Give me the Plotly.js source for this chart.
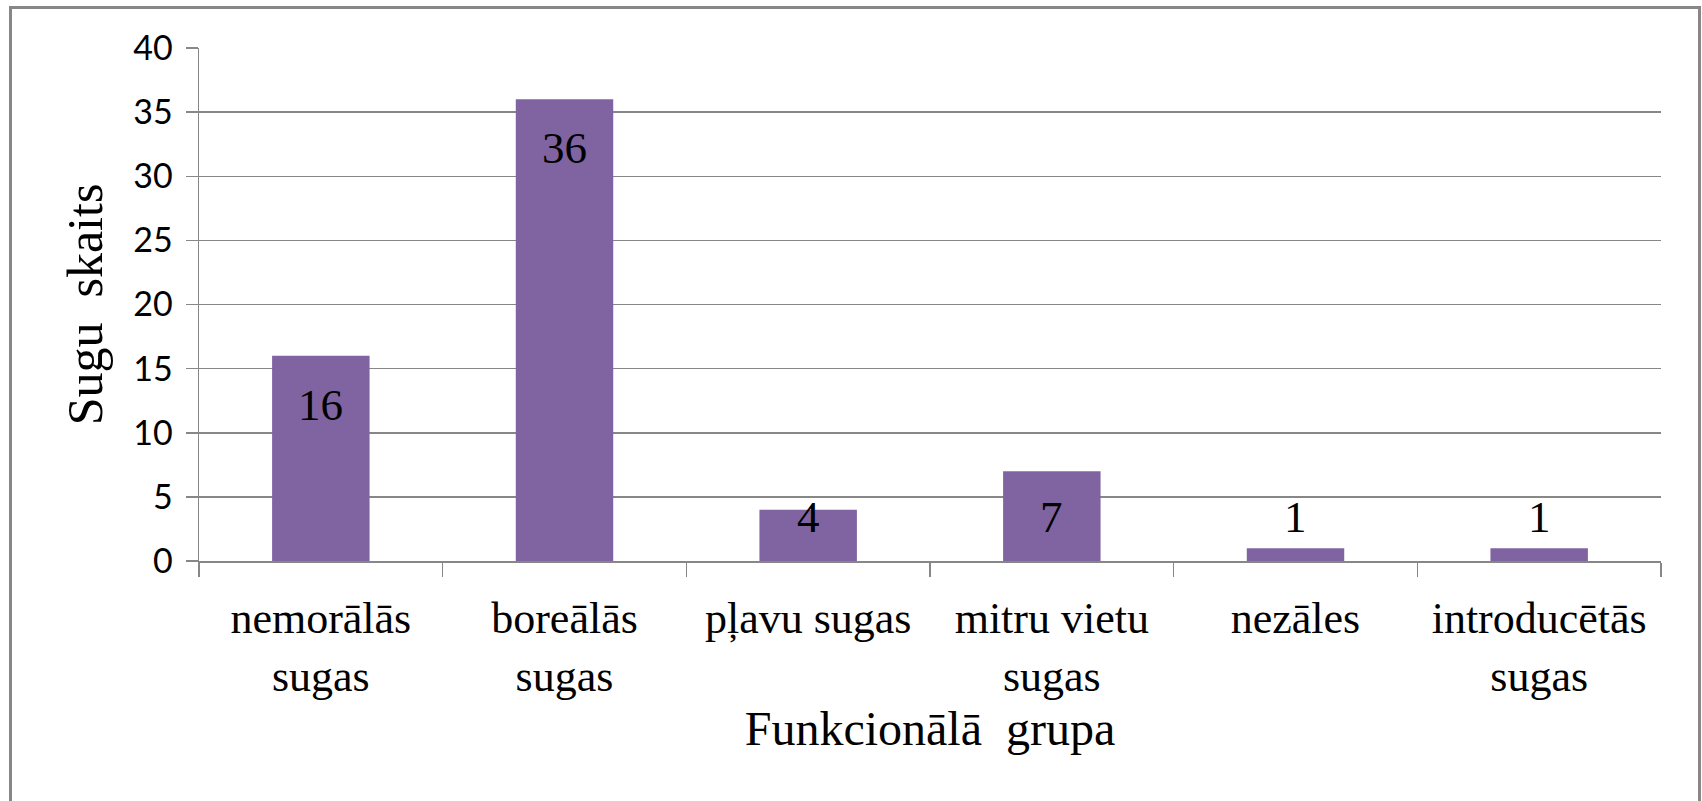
<!DOCTYPE html>
<html>
<head>
<meta charset="utf-8">
<script src="https://cdn.plot.ly/plotly-3.0.1.min.js"></script>
<style>
html,body{margin:0;padding:0;background:#fff;}
#chart{width:1702px;height:801px;}
</style>
</head>
<body>
<div id="chart"></div>
<script>
const categories = ["nemorālās<br>sugas", "boreālās<br>sugas", "pļavu sugas", "mitru vietu<br>sugas", "nezāles", "introducētās<br>sugas"];
const speciesCount = [16, 36, 4, 7, 1, 1];
const yTickValues = [0, 5, 10, 15, 20, 25, 30, 35, 40];
const xTitle = "Funkcionālā\u00A0 grupa";
const yTitle = "Sugu\u00A0 skaits";

const serif = "'Liberation Serif', 'Times New Roman', serif";
const gray = "#878787";

// Data labels: "inside end", but never lower than just above the baseline
const labelAnnotations = speciesCount.map((v, i) => ({
  x: categories[i],
  y: Math.max(v - 1.7, 5.5),
  xref: "x", yref: "y",
  text: String(v),
  showarrow: false,
  yanchor: "top",
  font: {family: serif, size: 45, color: "#000"}
}));

const trace = {
  type: "bar",
  x: categories,
  y: speciesCount,
  marker: {color: "#8064A2", line: {width: 0}},
  hoverinfo: "x+y"
};

const layout = {
  width: 1702, height: 801,
  margin: {l: 199, r: 41, t: 48, b: 240},
  paper_bgcolor: "#fff", plot_bgcolor: "#fff",
  showlegend: false,
  bargap: 0.6,
  xaxis: {
    type: "category",
    showgrid: false,
    showline: true, linecolor: gray, linewidth: 1.5,
    ticks: "outside", tickson: "boundaries", ticklen: 14, tickcolor: gray, tickwidth: 1.5,
    tickfont: {family: serif, size: 44, color: "#000"},
    ticklabelstandoff: 18,
    title: {text: xTitle, font: {family: serif, size: 48, color: "#000"}, standoff: 12},
    fixedrange: true
  },
  yaxis: {
    range: [0, 40],
    tickvals: yTickValues,
    ticktext: yTickValues.map(String),
    showgrid: true, gridcolor: gray, gridwidth: 1.5,
    zeroline: false,
    showline: true, linecolor: gray, linewidth: 1.5,
    ticks: "outside", ticklen: 12, tickcolor: gray, tickwidth: 1.5,
    tickfont: {family: "Lato, 'Open Sans', sans-serif", size: 34, color: "#000"},
    ticklabelstandoff: 6,
    title: {text: yTitle, font: {family: serif, size: 50, color: "#000"}, standoff: 14},
    fixedrange: true
  },
  annotations: labelAnnotations,
  shapes: [{
    type: "rect", xref: "paper", yref: "paper",
    x0: (10.5 - 199) / 1462, x1: (1699.5 - 199) / 1462,
    y0: -0.6, y1: (561 - 7.5) / 513,
    line: {color: gray, width: 3}, fillcolor: "rgba(0,0,0,0)", layer: "below"
  }]
};

Plotly.newPlot("chart", [trace], layout, {displayModeBar: false, staticPlot: true});
</script>
</body>
</html>
